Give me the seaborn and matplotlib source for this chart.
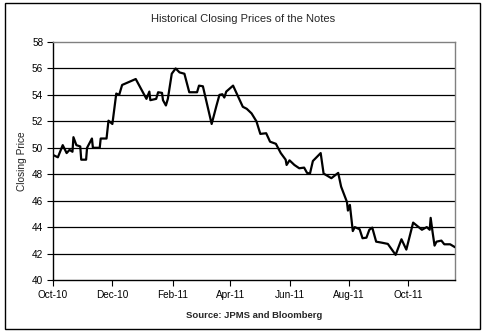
import matplotlib
matplotlib.use("Agg")
import matplotlib.pyplot as plt
import matplotlib.dates as mdates
import matplotlib.patches as mpatches
import pandas as pd
import seaborn as sns

dates = ["2010-10-01", "2010-10-06", "2010-10-11", "2010-10-15", "2010-10-18", "2010-10-21",
         "2010-10-22", "2010-10-25", "2010-10-29", "2010-10-30", "2010-11-04", "2010-11-05",
         "2010-11-10", "2010-11-11", "2010-11-18", "2010-11-19", "2010-11-25", "2010-11-27",
         "2010-12-01", "2010-12-05", "2010-12-08", "2010-12-11", "2010-12-25", "2011-01-05",
         "2011-01-08", "2011-01-09", "2011-01-15", "2011-01-17", "2011-01-21", "2011-01-22",
         "2011-01-25", "2011-01-27", "2011-01-31", "2011-02-04", "2011-02-08", "2011-02-13",
         "2011-02-18", "2011-02-26", "2011-02-28", "2011-03-04", "2011-03-13", "2011-03-18",
         "2011-03-21", "2011-03-24", "2011-03-26", "2011-03-28", "2011-04-04", "2011-04-14",
         "2011-04-18", "2011-04-23", "2011-04-28", "2011-05-02", "2011-05-08", "2011-05-12",
         "2011-05-18", "2011-05-23", "2011-05-28", "2011-05-29", "2011-06-01", "2011-06-06",
         "2011-06-11", "2011-06-16", "2011-06-19", "2011-06-22", "2011-06-25", "2011-07-03",
         "2011-07-06", "2011-07-14", "2011-07-21", "2011-07-24", "2011-07-30", "2011-07-31",
         "2011-08-02", "2011-08-05", "2011-08-07", "2011-08-12", "2011-08-15", "2011-08-19",
         "2011-08-22", "2011-08-25", "2011-08-29", "2011-09-04", "2011-09-10", "2011-09-18",
         "2011-09-24", "2011-09-29", "2011-10-06", "2011-10-15", "2011-10-20", "2011-10-23",
         "2011-10-24", "2011-10-26", "2011-10-28", "2011-10-30", "2011-11-04", "2011-11-07",
         "2011-11-13", "2011-11-18"]
prices = [49.46, 49.28, 50.2, 49.6, 49.84, 49.7,
          50.8, 50.2, 50.1, 49.1, 49.1, 50.0,
          50.7, 50.0, 50.0, 50.7, 50.7, 52.05,
          51.8, 54.1, 54.0, 54.75, 55.2, 53.7,
          54.25, 53.6, 53.7, 54.2, 54.15, 53.6,
          53.2, 53.7, 55.6, 56.0, 55.7, 55.6,
          54.2, 54.2, 54.7, 54.65, 51.8, 53.2,
          54.0, 54.05, 53.8, 54.25, 54.7, 53.1,
          52.95, 52.6, 52.0, 51.05, 51.1, 50.46,
          50.3, 49.6, 49.1, 48.7, 49.05, 48.7,
          48.45, 48.5, 48.1, 48.05, 49.0, 49.6,
          48.05, 47.7, 48.1, 47.06, 45.9, 45.25,
          45.68, 43.7, 44.0, 43.84, 43.16, 43.2,
          43.8, 43.96, 42.9, 42.82, 42.73, 41.9,
          43.08, 42.3, 44.34, 43.8, 44.0, 43.8,
          44.7, 43.6, 42.6, 42.9, 42.98, 42.7,
          42.7, 42.48]
y_ticks = [40, 42, 44, 46, 48, 50, 52, 54, 56, 58]

title = "Historical Closing Prices of the Notes"
ylabel = "Closing Price"
source = "Source: JPMS and Bloomberg"

df = pd.DataFrame({"date": pd.to_datetime(dates), "price": prices})

sns.set_theme(style="white")
plt.rcParams["font.family"] = ["Liberation Sans", "DejaVu Sans"]

fig = plt.figure(figsize=(4.89, 3.35), dpi=100)
fig.patch.set_facecolor("white")
ax = fig.add_axes([53 / 489, 1 - 280 / 335, (455 - 53) / 489, (280 - 42) / 335])

# outer chart border
fig.add_artist(mpatches.Rectangle((5 / 489, 1 - 329 / 335), (480 - 5) / 489, (329 - 3) / 335,
                                  transform=fig.transFigure, fill=False, edgecolor="black",
                                  linewidth=1.0))

for yv in y_ticks[1:-1]:
    ax.axhline(yv, color="black", linewidth=0.9, zorder=1)

sns.lineplot(data=df, x="date", y="price", ax=ax, color="black", linewidth=1.6, zorder=3)

ax.set_xlim(pd.Timestamp("2010-10-01"), pd.Timestamp("2011-11-18"))
ax.set_ylim(40, 58)
ax.set_yticks(y_ticks)
ax.xaxis.set_major_locator(mdates.MonthLocator(bymonth=[2, 4, 6, 8, 10, 12]))
ax.xaxis.set_major_formatter(mdates.DateFormatter("%b-%y"))

for side in ["top", "right"]:
    ax.spines[side].set_color("#808080")
    ax.spines[side].set_linewidth(1.0)
for side in ["left", "bottom"]:
    ax.spines[side].set_color("black")
    ax.spines[side].set_linewidth(1.0)

ax.tick_params(axis="both", which="major", direction="out", length=4, width=0.8,
               color="black", labelsize=7.2, labelcolor="black", pad=3,
               left=True, bottom=True)
ax.set_xlabel("")
ax.set_ylabel(ylabel, fontsize=7.3, fontweight="normal", color="#222222")
ax.yaxis.set_label_coords(-0.064, 0.5)

fig.text(243 / 489, 1 - 19 / 335, title, ha="center", va="center",
         fontsize=8.0, fontweight="normal")
fig.text(254 / 489, 1 - 316 / 335, source, ha="center", va="center",
         fontsize=6.8, fontweight="bold")

fig.savefig("out.png", dpi=100, facecolor="white")
